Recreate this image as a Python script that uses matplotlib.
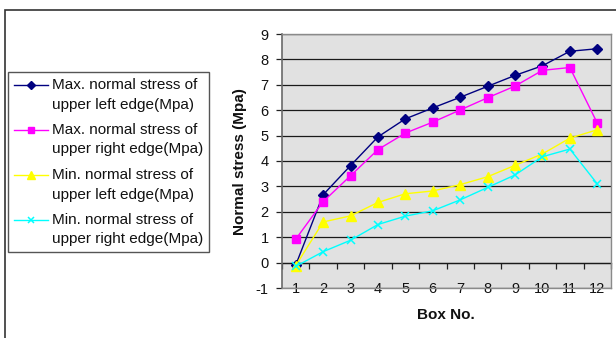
"""Normal stress along the upper edges, per box."""
import matplotlib
matplotlib.use("Agg")
import matplotlib.pyplot as plt
from matplotlib.lines import Line2D
from matplotlib.patches import Rectangle

plt.rcParams["font.family"] = ["Liberation Sans", "DejaVu Sans"]
plt.rcParams["axes.unicode_minus"] = False

# data
boxes = list(range(1, 13))
max_left = [-0.1, 2.67, 3.82, 4.95, 5.66, 6.09, 6.51, 6.94, 7.37, 7.75, 8.32, 8.42]
max_right = [0.92, 2.4, 3.42, 4.45, 5.1, 5.53, 6.01, 6.49, 6.95, 7.57, 7.68, 5.49]
min_left = [-0.12, 1.6, 1.84, 2.37, 2.71, 2.82, 3.07, 3.38, 3.83, 4.28, 4.9, 5.23]
min_right = [-0.15, 0.43, 0.88, 1.5, 1.83, 2.04, 2.47, 2.96, 3.45, 4.17, 4.47, 3.1]

labels = [
    "Max. normal stress of\nupper left edge(Mpa)",
    "Max. normal stress of\nupper right edge(Mpa)",
    "Min. normal stress of\nupper left edge(Mpa)",
    "Min. normal stress of\nupper right edge(Mpa)",
]
y_ticks = list(range(-1, 10))

W, H = 616, 338
STYLES = [
    dict(color="#000080", marker="D", markersize=5),
    dict(color="#FF00FF", marker="s", markersize=5.5),
    dict(color="#FFFF00", marker="^", markersize=6.5),
    dict(color="#00FFFF", marker="x", markersize=6, markeredgewidth=1.1),
]


def fx(px):
    return px / W


def fy(py):
    return 1 - py / H


fig = plt.figure(figsize=(W / 100, H / 100), dpi=100)
fig.patch.set_facecolor("white")

# outer chart frame (runs off the right and bottom edges)
fig.add_artist(Rectangle((fx(5), -0.2), 2, fy(10) + 0.2, transform=fig.transFigure,
                         fill=False, edgecolor="#333333", linewidth=1.2))

ax = fig.add_axes([fx(282), fy(288), fx(611) - fx(282), fy(34) - fy(288)])
ax.set_facecolor("#E1E1E1")

for vals, st in zip([max_left, max_right, min_left, min_right], STYLES):
    ax.plot(boxes, vals, linewidth=1.0, zorder=3, **st)

ax.set_xlim(0.5, 12.5)
ax.set_ylim(-1, 9)
ax.set_yticks(y_ticks)
ax.set_xticks(boxes)
ax.yaxis.grid(True, color="#1a1a1a", linewidth=0.9)
ax.set_axisbelow(True)

for side in ("top", "right", "bottom"):
    ax.spines[side].set_color("#8a8a8a")
    ax.spines[side].set_linewidth(1.0)
ax.spines["left"].set_color("#6a6a6a")
ax.spines["left"].set_linewidth(1.2)

ax.tick_params(axis="y", direction="out", length=4, width=0.9, color="#222222",
               labelsize=10.5, pad=5.5, labelcolor="#111111")
ax.tick_params(axis="x", length=0, labelsize=10.5, pad=-4.5, labelcolor="#111111")

# category axis crossing at y = 0, ticks between boxes
sec = ax.secondary_xaxis(0.1)
sec.set_xticks([b + 0.5 for b in boxes[:-1]] + [boxes[0] - 0.5, boxes[-1] + 0.5])
sec.set_xticklabels([])
sec.tick_params(direction="out", length=4, width=0.9, color="#222222")
sec.spines["bottom"].set_color("#1a1a1a")
sec.spines["bottom"].set_linewidth(0.9)

fig.text(fx(240), fy(162), "Normal stress (Mpa)", rotation=90, ha="center",
         va="center", fontsize=11, fontweight="bold", color="#111111")
fig.text(fx(446), fy(315), "Box No.", ha="center", va="center",
         fontsize=11, fontweight="bold", color="#111111")

# legend box
fig.add_artist(Rectangle((fx(8), fy(252)), fx(209) - fx(8), fy(72) - fy(252),
                         transform=fig.transFigure, facecolor="white",
                         edgecolor="#555555", linewidth=1.0))
for i, (label, st) in enumerate(zip(labels, STYLES)):
    y0 = 85 + 45 * i
    fig.add_artist(Line2D([fx(14), fx(31), fx(48)], [fy(y0)] * 3,
                          transform=fig.transFigure, linewidth=1.0,
                          markevery=[1], **{**st, "markersize": st["markersize"] - 1}))
    for j, line in enumerate(label.split("\n")):
        fig.text(fx(52), fy(y0 + 19.5 * j), line, ha="left", va="center",
                 fontsize=11, color="#111111")

fig.savefig("out.png", dpi=100, facecolor="white")
